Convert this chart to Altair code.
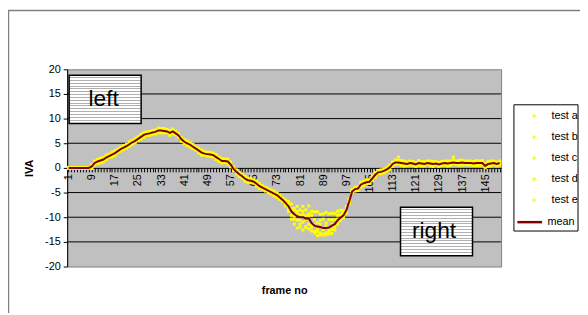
import altair as alt
import pandas as pd

FONT = "Liberation Sans, Arial, sans-serif"

frames = list(range(1, 151))
series_names = ["test a", "test b", "test c", "test d", "test e"]
y_ticks = [-20, -15, -10, -5, 0, 5, 10, 15, 20]
grid_values = [-15, -10, -5, 5, 10, 15]

mean = [0, 0, 0, 0, 0, 0, 0, 0, 0.3, 1.0,
        1.3, 1.5, 1.7, 2.1, 2.4, 2.7, 3.0, 3.4, 3.8, 4.1,
        4.4, 4.8, 5.2, 5.5, 5.9, 6.3, 6.7, 6.9, 7.0, 7.2,
        7.3, 7.6, 7.6, 7.5, 7.4, 7.1, 7.4, 7.0, 6.6, 5.8,
        5.3, 5.0, 4.7, 4.3, 3.9, 3.5, 3.1, 2.9, 2.8, 2.7,
        2.6, 2.2, 1.8, 1.4, 1.4, 1.3, 0.7, -0.2, -0.8, -1.3,
        -1.7, -2.2, -2.5, -2.6, -2.8, -3.2, -3.7, -4.0, -4.3, -4.6,
        -4.9, -5.2, -5.5, -6.0, -6.5, -7.1, -7.8, -8.8, -9.4, -9.8,
        -10.0, -10.0, -10.3, -10.2, -11.2, -11.7, -11.9, -12.0, -12.2, -12.2,
        -12.1, -11.7, -11.4, -10.6, -10.1, -9.6, -8.6, -6.8, -4.8, -4.3,
        -4.2, -3.4, -3.1, -2.9, -2.8, -2.1, -1.4, -0.9, -0.8, -0.6,
        -0.3, 0.1, 0.8, 1.1, 1.1, 1.0, 0.9, 0.8, 1.0, 0.9,
        0.7, 1.0, 0.9, 0.8, 1.0, 0.9, 0.8, 0.9, 0.7, 0.9,
        1.0, 0.9, 1.0, 1.1, 1.0, 1.0, 1.1, 1.0, 1.0, 1.0,
        0.9, 1.0, 1.0, 1.0, 0.4, 0.8, 0.9, 1.0, 0.8, 1.0]

test_a = [0, 0, 0, 0, 0, 0, 0, 0, 0.7, 0.9,
          1.7, 1.2, 1.9, 2.6, 2.2, 3.0, 2.6, 3.5, 4.2, 4.0,
          4.8, 4.5, 5.4, 6.0, 5.7, 6.6, 6.3, 7.0, 7.4, 7.1,
          7.7, 7.3, 7.8, 8.0, 7.2, 7.4, 7.0, 7.1, 7.0, 5.7,
          5.7, 4.7, 4.9, 4.8, 3.7, 3.8, 2.7, 3.0, 3.2, 2.6,
          3.0, 1.9, 2.0, 1.9, 1.2, 1.6, 0.3, -0.1, -0.4, -1.4,
          -1.3, -2.5, -2.3, -2.1, -3.0, -2.9, -4.1, -3.9, -3.9, -4.7,
          -4.5, -5.5, -5.3, -5.5, -6.7, -6.5, -6.8, -7.3, -8.2, -7.8,
          -8.5, -7.8, -8.5, -7.7, -8.8, -8.9, -8.9, -9.4, -9.3, -9.0,
          -9.3, -9.2, -9.2, -8.8, -8.6, -8.6, -7.8, -6.3, -4.5, -4.4,
          -3.8, -3.7, -2.9, -2.4, -3.0, -1.8, -1.8, -0.8, -0.4, -0.7,
          0.1, -0.2, 1.0, 1.6, 2.2, 1.3, 0.5, 0.9, 1.4, 0.8,
          1.1, 0.7, 1.1, 1.3, 0.8, 1.2, 0.4, 1.0, 1.1, 0.8,
          1.4, 0.6, 1.2, 1.6, 0.8, 1.3, 0.7, 1.1, 1.4, 0.9,
          1.3, 0.7, 1.2, 1.5, 0.2, 1.1, 0.5, 1.1, 1.2, 0.9]

test_b = [0, 0, 0, 0, 0, 0, 0, 0, -0.1, 1.3,
          0.9, 1.7, 1.2, 2.2, 2.8, 2.4, 3.2, 3.2, 3.4, 4.4,
          4.0, 5.0, 4.7, 5.6, 6.3, 6.0, 6.9, 6.7, 6.6, 7.5,
          6.9, 7.8, 7.1, 7.6, 7.8, 6.8, 7.6, 6.8, 6.2, 6.1,
          4.9, 5.2, 4.2, 4.4, 4.3, 3.2, 3.3, 2.7, 2.4, 3.0,
          2.2, 2.4, 1.3, 1.5, 1.8, 1.0, 0.9, -0.4, -1.2, -1.0,
          -2.1, -2.0, -3.0, -2.5, -2.4, -3.5, -3.5, -4.2, -4.7, -4.3,
          -5.3, -5.0, -6.0, -5.9, -6.1, -6.8, -7.2, -8.6, -8.6, -8.8,
          -9.6, -8.8, -9.7, -9.3, -9.6, -10.5, -11.1, -10.6, -10.4, -11.2,
          -10.5, -10.5, -10.5, -9.6, -9.5, -9.2, -8.1, -6.6, -5.0, -4.0,
          -4.6, -3.2, -3.6, -2.8, -2.4, -2.4, -1.2, -1.1, -1.2, -0.3,
          -0.7, 0.3, 0.3, 1.2, 1.5, 0.7, 1.1, 0.6, 0.6, 1.2,
          0.3, 1.2, 0.4, 0.9, 1.4, 0.6, 1.0, 0.7, 0.3, 1.2,
          0.6, 1.1, 0.5, 1.2, 1.4, 0.7, 1.3, 0.8, 0.6, 1.3,
          0.5, 1.2, 0.5, 1.1, 0.8, 0.5, 1.1, 0.8, 0.4, 1.3]

test_c = [0, 0, 0, 0, 0, 0, 0, 0, 0.1, 1.2,
          1.5, 2.0, 1.6, 1.7, 2.7, 2.8, 2.5, 3.8, 3.6, 4.3,
          4.6, 5.3, 5.1, 5.1, 6.2, 6.4, 6.2, 7.3, 6.8, 7.4,
          7.5, 8.1, 7.5, 7.1, 7.7, 7.2, 6.9, 7.4, 6.4, 6.0,
          5.5, 5.5, 4.6, 3.9, 4.2, 3.6, 2.6, 3.3, 2.6, 2.9,
          2.8, 2.7, 1.7, 1.0, 1.7, 1.4, 0.2, 0.2, -1.0, -1.1,
          -1.5, -1.7, -2.6, -3.0, -2.5, -3.1, -4.2, -3.6, -4.5, -4.4,
          -4.7, -4.7, -5.6, -6.4, -6.2, -7.4, -8.3, -9.6, -10.4, -10.6,
          -11.4, -11.0, -11.9, -11.4, -12.0, -12.9, -12.9, -13.6, -13.4, -13.6,
          -13.1, -12.5, -12.6, -11.2, -10.5, -9.9, -9.2, -6.5, -4.4, -4.1,
          -4.0, -2.9, -3.2, -3.3, -2.5, -2.0, -1.9, -0.5, -1.0, -0.4,
          -0.1, 0.6, 0.7, 0.7, 1.4, 1.1, 0.4, 1.2, 0.8, 1.1,
          0.9, 1.5, 0.8, 0.4, 1.3, 1.0, 0.3, 1.3, 0.5, 1.1,
          1.2, 1.4, 0.9, 2.2, 1.3, 1.1, 0.6, 1.4, 0.8, 1.2,
          1.1, 1.5, 0.9, 0.6, 0.7, 0.9, 0.4, 1.4, 0.6, 1.2]

test_d = [0, 0, 0, 0, 0, 0, 0, 0, 0.6, 0.6,
          1.1, 1.0, 2.1, 2.0, 2.1, 3.2, 3.2, 3.1, 4.1, 3.7,
          4.2, 4.3, 5.6, 5.4, 5.6, 6.8, 6.9, 6.6, 7.3, 6.8,
          7.1, 7.1, 8.0, 7.4, 7.1, 7.6, 7.6, 6.7, 6.9, 5.4,
          5.1, 4.5, 5.1, 4.2, 3.6, 4.0, 3.3, 2.6, 3.1, 2.3,
          2.4, 1.7, 2.2, 1.3, 1.1, 1.8, 0.9, -0.5, -0.5, -1.7,
          -1.9, -2.7, -2.1, -2.7, -3.1, -2.7, -3.5, -4.3, -4.0, -5.0,
          -5.1, -5.7, -5.1, -6.1, -6.8, -6.9, -8.1, -8.3, -9.8, -9.5,
          -10.6, -9.5, -10.5, -9.8, -11.6, -11.5, -12.4, -11.4, -12.5, -11.8,
          -12.7, -11.4, -11.8, -10.4, -10.4, -9.3, -8.8, -7.3, -4.6, -4.7,
          -4.4, -3.9, -2.7, -3.0, -3.1, -1.6, -1.2, -1.2, -0.5, -1.0,
          -0.5, -0.4, 1.2, 1.0, 0.8, 1.5, 1.1, 0.5, 1.3, 0.5,
          0.5, 0.5, 1.3, 0.7, 0.7, 1.4, 1.0, 0.6, 1.0, 0.5,
          0.8, 0.4, 1.4, 1.0, 0.7, 1.5, 1.3, 0.7, 1.3, 0.6,
          0.7, 0.5, 1.4, 0.9, 0.1, 1.3, 1.1, 0.7, 1.1, 0.6]

test_e = [0, 0, 0, 0, 0, 0, 0, 0, 0.0, 1.4,
          1.4, 1.8, 2.0, 1.8, 2.5, 2.2, 3.5, 3.3, 3.5, 4.5,
          4.5, 5.1, 5.5, 5.2, 6.0, 5.8, 7.2, 6.8, 6.7, 7.6,
          7.4, 7.9, 7.9, 7.2, 7.5, 6.6, 7.9, 6.9, 6.3, 6.2,
          5.4, 5.3, 5.0, 4.0, 4.0, 3.0, 3.6, 2.8, 2.5, 3.1,
          2.7, 2.5, 2.1, 1.1, 1.5, 0.8, 1.2, -0.3, -1.1, -0.9,
          -1.6, -1.9, -2.2, -2.9, -2.7, -3.7, -3.2, -4.1, -4.6, -4.2,
          -4.8, -4.9, -5.2, -6.3, -6.4, -7.7, -8.8, -10.4, -11.4, -12.2,
          -12.0, -12.6, -12.1, -12.4, -12.8, -13.2, -13.7, -13.2, -13.6, -13.2,
          -13.4, -13.3, -12.4, -11.4, -10.7, -10.2, -9.0, -7.1, -5.0, -3.9,
          -4.1, -3.1, -2.8, -3.2, -2.7, -2.6, -0.9, -1.0, -1.1, -0.2,
          -0.2, 0.4, 1.1, 0.8, 1.2, 0.5, 1.4, 0.7, 0.7, 1.3,
          0.8, 1.3, 1.2, 0.5, 1.1, 0.4, 1.3, 0.8, 0.4, 1.3,
          1.1, 1.2, 1.3, 0.8, 1.1, 0.5, 1.6, 0.9, 0.7, 1.4,
          1.0, 1.3, 1.3, 0.7, 0.5, 0.3, 1.4, 0.9, 0.5, 1.4]

tests = [test_a, test_b, test_c, test_d, test_e]

# ---------- tables ----------
rows = []
for name, vals in zip(series_names, tests):
    for f, v in zip(frames, vals):
        rows.append({"frame": f, "value": v, "series": name})
tests_df = pd.DataFrame(rows)
mean_df = pd.DataFrame({"frame": frames, "value": mean, "series": ["mean"] * len(frames)})
grid_df = pd.DataFrame({"value": grid_values})
dummy = pd.DataFrame({"d": [0]})

W, H = 440, 200
xscale = alt.Scale(domain=[0.5, 150.5], nice=False, zero=False)
yscale = alt.Scale(domain=[-20, 20], nice=False, zero=False)

x_axis = alt.Axis(
    values=frames,
    labelExpr="(datum.value - 1) % 8 == 0 ? datum.label : ''",
    labelAngle=270, labelOverlap=False, labelFlush=False,
    offset=-H / 2, grid=False,
    domainColor="black", domainWidth=1, tickColor="black", tickSize=4, tickWidth=1,
    labelFont=FONT, labelFontSize=11, labelColor="black", labelPadding=2,
    title="frame no", titleFont=FONT, titleFontSize=11, titleFontWeight="bold",
    titleColor="black", titleY=124, titleBaseline="middle",
)
y_axis = alt.Axis(
    values=y_ticks, grid=False,
    labelExpr="replace(datum.label, '\u2212', '-')",
    domainColor="black", domainWidth=1, tickColor="black", tickSize=4,
    labelFont=FONT, labelFontSize=11, labelColor="black", labelPadding=3,
    title="IVA", titleFont=FONT, titleFontSize=11, titleFontWeight="bold",
    titleColor="black", titleX=-38, titleY=H / 2, titleAngle=270,
    titleAlign="center", titleBaseline="middle",
)

grid = alt.Chart(grid_df).mark_rule(color="black", strokeWidth=1).encode(
    y=alt.Y("value:Q", scale=yscale, axis=y_axis)
)


def hatch(n=17, frac=0.36, gray="#b0b0b0"):
    stops = []
    for i in range(n):
        a = i / n
        b = (i + 1 - frac) / n
        c = (i + 1) / n
        stops += [
            alt.GradientStop(offset=a, color="white"),
            alt.GradientStop(offset=b, color="white"),
            alt.GradientStop(offset=b, color=gray),
            alt.GradientStop(offset=c, color=gray),
        ]
    return alt.Gradient(gradient="linear", stops=stops, x1=0, x2=0, y1=0, y2=1)


left_box = alt.Chart(dummy).mark_rect(fill=hatch(), stroke="black", strokeWidth=1.5).encode(
    x=alt.value(2), x2=alt.value(75), y=alt.value(6), y2=alt.value(55)
)
left_text = alt.Chart(dummy).mark_text(
    text="left", font=FONT, fontSize=23, align="center", baseline="alphabetic", color="black"
).encode(x=alt.value(37), y=alt.value(37))
right_box = alt.Chart(dummy).mark_rect(fill=hatch(), stroke="black", strokeWidth=1.5).encode(
    x=alt.value(338), x2=alt.value(411), y=alt.value(140), y2=alt.value(189)
)
right_text = alt.Chart(dummy).mark_text(
    text="right", font=FONT, fontSize=23, align="center", baseline="alphabetic", color="black"
).encode(x=alt.value(372), y=alt.value(171))

points = alt.Chart(tests_df).mark_square(size=9, opacity=1).encode(
    x=alt.X("frame:Q", scale=xscale, axis=x_axis),
    y=alt.Y("value:Q", scale=yscale, axis=y_axis),
    color=alt.Color(
        "series:N",
        scale=alt.Scale(domain=series_names, range=["#FFFF00"] * 5),
        legend=alt.Legend(
            orient="none", legendX=468, legendY=42, title=None, padding=0,
            symbolType="square", symbolSize=9, symbolStrokeWidth=0,
            labelFont=FONT, labelFontSize=11, labelColor="black",
            labelOffset=12, rowPadding=9.3,
        ),
    ),
)

mean_line = alt.Chart(mean_df).mark_line(strokeWidth=2).encode(
    x=alt.X("frame:Q", scale=xscale, axis=x_axis),
    y=alt.Y("value:Q", scale=yscale, axis=y_axis),
    color=alt.Color(
        "series:N",
        scale=alt.Scale(domain=["mean"], range=["#800000"]),
        legend=alt.Legend(
            orient="none", legendX=455, legendY=141, title=None, padding=0,
            symbolType="stroke", symbolSize=625, symbolStrokeWidth=2.5,
            labelFont=FONT, labelFontSize=11, labelColor="black", labelOffset=4,
        ),
    ),
)

legend_box = alt.Chart(dummy).mark_rect(fill="white", stroke="black", strokeWidth=1).encode(
    x=alt.value(453), x2=alt.value(518), y=alt.value(36), y2=alt.value(164)
)

border_top = alt.Chart(dummy).mark_rule(color="#808080", strokeWidth=1.5).encode(
    x=alt.value(-60), x2=alt.value(520), y=alt.value(-59.5)
)
border_left = alt.Chart(dummy).mark_rule(color="#808080", strokeWidth=1.5).encode(
    x=alt.value(-59.5), y=alt.value(-60), y2=alt.value(247)
)

chart = (
    alt.layer(grid, left_box, left_text, right_box, right_text, points, mean_line,
              legend_box, border_top, border_left)
    .resolve_scale(color="independent")
    .properties(
        width=W, height=H,
        padding={"left": 60, "top": 60, "right": 80, "bottom": 47},
        autosize=alt.AutoSizeParams(type="none"),
        background="white",
    )
    .configure_view(fill="#C0C0C0", stroke="#808080", strokeWidth=1)
)

chart.save("out.html", embed_options={"renderer": "svg", "actions": False})
